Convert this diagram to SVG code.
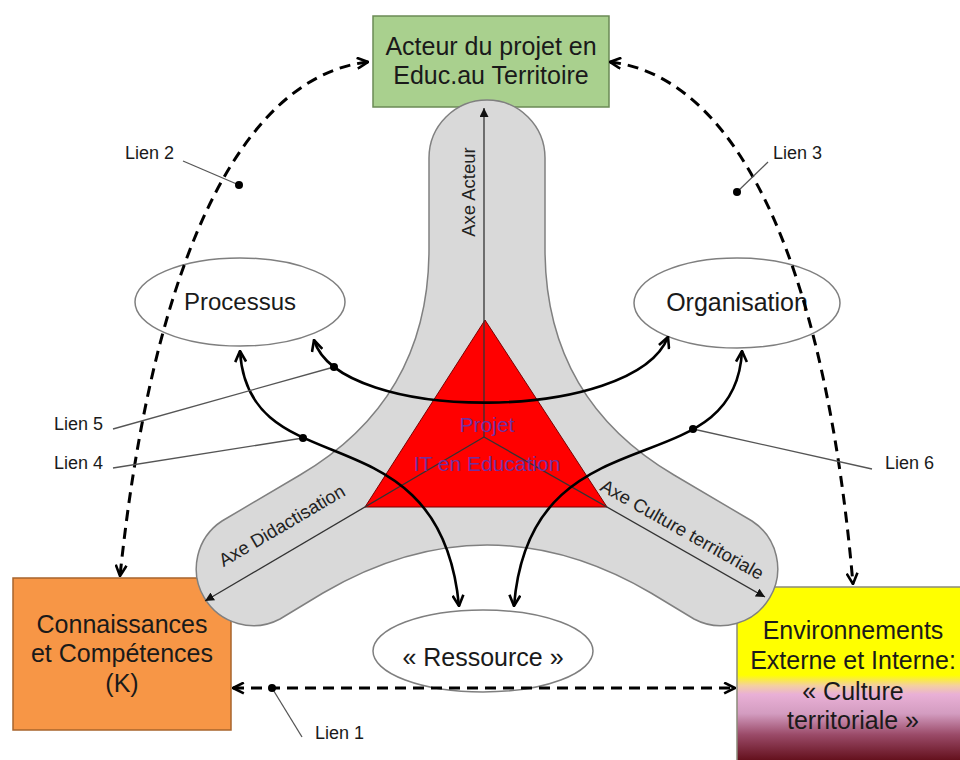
<svg xmlns="http://www.w3.org/2000/svg" width="960" height="760" viewBox="0 0 960 760">
<style>
text{font-family:"Liberation Sans",Arial,sans-serif;fill:#1a1a1a}
.big{font-size:25px;text-anchor:middle}
.ell{font-size:24px;text-anchor:middle}
.axt{font-size:18.5px;text-anchor:middle;fill:#222}
.lien{font-size:18px}
.dash{fill:none;stroke:#000;stroke-width:3;stroke-dasharray:11 7;marker-start:url(#ah);marker-end:url(#ah)}
.curve{fill:none;stroke:#000;stroke-width:2.6;marker-start:url(#ah);marker-end:url(#ah)}
.lead{fill:none;stroke:#555;stroke-width:1.3}
.axis{fill:none;stroke:#333;stroke-width:1.3;marker-end:url(#tri)}
.dot{fill:#000}
.el{fill:#fff;stroke:#7f7f7f;stroke-width:1.5}
</style>
<defs>
<marker id="ah" viewBox="0 0 12 12" refX="11" refY="6" markerWidth="13" markerHeight="13" markerUnits="userSpaceOnUse" orient="auto-start-reverse"><path d="M1,1 L11,6 L1,11" fill="none" stroke="#000" stroke-width="2.4" stroke-dasharray="none"/></marker>
<marker id="tri" viewBox="0 0 10 10" refX="10" refY="5" markerWidth="9" markerHeight="9" markerUnits="userSpaceOnUse" orient="auto"><path d="M0,0 L10,5 L0,10 z" fill="#111"/></marker>
<linearGradient id="envGrad" x1="0" y1="0" x2="0" y2="1">
<stop offset="0" stop-color="#FFFF00"/>
<stop offset="0.5" stop-color="#FFFF00"/>
<stop offset="0.56" stop-color="#F4D0A0"/>
<stop offset="0.61" stop-color="#E9B0D6"/>
<stop offset="0.72" stop-color="#D39CC0"/>
<stop offset="0.84" stop-color="#9A4A68"/>
<stop offset="1" stop-color="#5E0A14"/>
</linearGradient>
</defs>
<rect width="960" height="760" fill="#fff"/>

<g id="acteur">
<rect x="373" y="16" width="236" height="91" fill="#A9D08E" stroke="#6b8a55" stroke-width="1.5"/>
<text class="big" x="491" y="55">Acteur du projet en</text>
<text class="big" x="491" y="84">Educ.au Territoire</text>
</g>
<g id="connaissances">
<rect x="13" y="578" width="218" height="152" fill="#F79646" stroke="#a8642c" stroke-width="1.5"/>
<text class="big" x="122" y="633">Connaissances</text>
<text class="big" x="122" y="662">et Compétences</text>
<text class="big" x="122" y="692">(K)</text>
</g>
<g id="environnements">
<rect x="737" y="587" width="226" height="176" fill="url(#envGrad)" stroke="#8a8a7a" stroke-width="1.5"/>
<text class="big" x="853" y="639">Environnements</text>
<text class="big" x="853" y="669">Externe et Interne:</text>
<text class="big" x="853" y="700">« Culture</text>
<text class="big" x="853" y="729">territoriale »</text>
</g>

<g id="axes-fond">
<path d="M429,249 L429,158 A58,58 0 0 1 545,158 L545,249 Q545,399 674,475 L752,521 A57,57 0 0 1 694,619 L651,593 Q487,497 323,593 L280,619 A57,57 0 0 1 222,521 L300,475 Q429,399 429,249 Z" fill="#D9D9D9" stroke="#808080" stroke-width="1.5"/>
</g>

<g id="projet">
<polygon points="485,320 365,507 607,507" fill="#FF0000" stroke="#7a0000" stroke-width="1"/>
</g>

<g id="axes">
<line class="axis" x1="484" y1="437" x2="484" y2="108"/>
<line class="axis" x1="484" y1="437" x2="205" y2="601"/>
<line class="axis" x1="484" y1="437" x2="765" y2="597"/>
<text class="axt" transform="translate(475,192) rotate(-90)">Axe Acteur</text>
<text class="axt" transform="translate(285,531) rotate(-30.5)">Axe Didactisation</text>
<text class="axt" transform="translate(679,535) rotate(29.5)">Axe Culture territoriale</text>
</g>

<g id="projet-label">
<text x="487" y="432" style="font-size:21px;text-anchor:middle;fill:#7030A0">Projet</text>
<text x="487" y="471" style="font-size:21px;text-anchor:middle;fill:#7030A0">IT en Education</text>
</g>

<g id="processus">
<ellipse class="el" cx="240" cy="302" rx="105" ry="44"/>
<text class="ell" x="240" y="310">Processus</text>
</g>
<g id="organisation">
<ellipse class="el" cx="737" cy="303" rx="103" ry="45"/>
<text class="ell" x="737" y="311" style="font-size:25px">Organisation</text>
</g>
<g id="ressource">
<ellipse class="el" cx="483" cy="651" rx="110" ry="41"/>
<text class="big" x="483" y="666">« Ressource »</text>
</g>

<g id="connectors">
<path class="dash" d="M368,62 C250,75 155,240 120,576"/>
<path class="dash" d="M610,62 C728,75 823,240 853,584"/>
<path class="dash" d="M233,688 L735,688"/>
<path class="curve" d="M314,340 C340,425 634,423 668,337"/>
<path class="curve" d="M240,351 C248,490 440,405 459,606"/>
<path class="curve" d="M742,351 C735,490 530,405 514,606"/>
<line class="lead" x1="183" y1="161" x2="239" y2="185"/>
<line class="lead" x1="768" y1="162" x2="737" y2="192"/>
<line class="lead" x1="113" y1="429" x2="334" y2="367"/>
<line class="lead" x1="113" y1="468" x2="303" y2="438"/>
<line class="lead" x1="693" y1="429" x2="872" y2="469"/>
<line class="lead" x1="272" y1="688" x2="302" y2="737"/>
<circle class="dot" cx="239" cy="185" r="4"/>
<circle class="dot" cx="737" cy="192" r="4"/>
<circle class="dot" cx="334" cy="367" r="4"/>
<circle class="dot" cx="303" cy="438" r="4"/>
<circle class="dot" cx="693" cy="429" r="4"/>
<circle class="dot" cx="272" cy="688" r="4"/>
</g>

<g id="labels">
<text class="lien" x="125" y="159">Lien 2</text>
<text class="lien" x="773" y="159">Lien 3</text>
<text class="lien" x="54" y="430">Lien 5</text>
<text class="lien" x="54" y="469">Lien 4</text>
<text class="lien" x="885" y="469">Lien 6</text>
<text class="lien" x="315" y="739">Lien 1</text>
</g>
</svg>
